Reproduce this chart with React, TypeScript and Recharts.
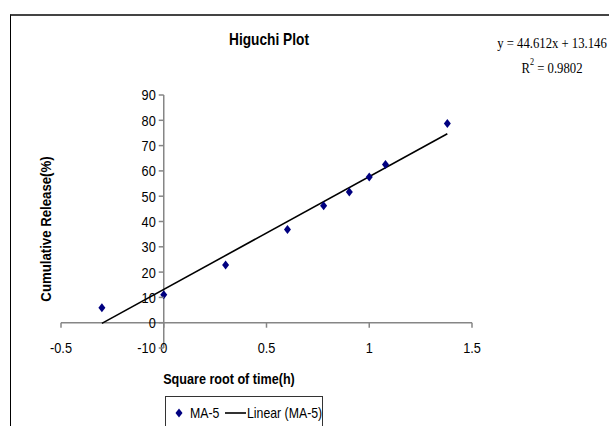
import React from 'react';
import { ScatterChart, Scatter, XAxis, YAxis, ReferenceLine } from 'recharts';

// log time vs cumulative release
const timeX = [-0.301, 0, 0.301, 0.602, 0.778, 0.903, 1.0, 1.079, 1.38];
const releaseY = [5.9, 11, 22.8, 36.8, 46.2, 51.7, 57.6, 62.5, 78.7];

// trendline ends (y = 44.612x + 13.146)
const trendX = [-0.301, 1.38];
const trendY = [-0.28, 74.71];

const xTicks = [-0.5, 0, 0.5, 1, 1.5];
const yTicks = [-10, 0, 10, 20, 30, 40, 50, 60, 70, 80, 90];

const W = 609;
const H = 426;
const PLOT = { top: 95, right: 137, bottom: 78, left: 61 };
const AXIS_H = 30;
const AXIS_W = 30;
const X_DOMAIN: [number, number] = [-0.5, 1.5];
const Y_DOMAIN: [number, number] = [-10, 90];

const plotW = W - PLOT.left - PLOT.right;
const plotH = H - PLOT.top - PLOT.bottom;
// pixel position where the other axis crosses (value 0)
const zeroX = PLOT.left + ((0 - X_DOMAIN[0]) / (X_DOMAIN[1] - X_DOMAIN[0])) * plotW;
const zeroY = PLOT.top + ((Y_DOMAIN[1] - 0) / (Y_DOMAIN[1] - Y_DOMAIN[0])) * plotH;

const sans = '"Liberation Sans", Arial, sans-serif';
const serif = '"Liberation Serif", "Times New Roman", serif';
const axisGray = '#868686';

const points = timeX.map((x, i) => ({ x, y: releaseY[i] }));
const trend = trendX.map((x, i) => ({ x, y: trendY[i] }));

const XTick = (props: any) => {
  const { x, payload } = props;
  return (
    <g>
      <line x1={x} x2={x} y1={zeroY} y2={zeroY + 5} stroke={axisGray} strokeWidth={1.5} />
      <text x={x} y={PLOT.top + plotH + 5.5} textAnchor="middle" fontSize={15} fontFamily={sans} fill="#000"
        transform={`translate(${x},0) scale(0.85,1) translate(${-x},0)`}>
        {payload.value}
      </text>
    </g>
  );
};

const YTick = (props: any) => {
  const { y, payload } = props;
  const tx = zeroX - 8;
  return (
    <g>
      <line x1={zeroX - 5} x2={zeroX} y1={y} y2={y} stroke={axisGray} strokeWidth={1.5} />
      <text x={tx} y={y + 5.5} textAnchor="end" fontSize={15} fontFamily={sans} fill="#000"
        transform={`translate(${tx},0) scale(0.85,1) translate(${-tx},0)`}>
        {payload.value}
      </text>
    </g>
  );
};

const Diamond = (props: any) => {
  const { cx, cy } = props;
  if (cx == null || cy == null) return <g />;
  return <path d={`M${cx},${cy - 4.5} L${cx + 3.5},${cy} L${cx},${cy + 4.5} L${cx - 3.5},${cy} Z`} fill="#000080" />;
};

const legendText: React.CSSProperties = {
  position: 'absolute',
  top: 7,
  fontFamily: sans,
  fontSize: 15,
  lineHeight: '18px',
  whiteSpace: 'nowrap',
  transform: 'scaleX(0.82)',
  transformOrigin: 'left center',
};

export default function App() {
  return (
    <div style={{ position: 'absolute', left: 0, top: 0, width: W, height: H, overflow: 'hidden', background: '#fff' }}>
      <ScatterChart
        width={W}
        height={H}
        margin={{ top: PLOT.top, right: PLOT.right, bottom: PLOT.bottom - AXIS_H, left: PLOT.left - AXIS_W }}
      >
        <XAxis
          type="number"
          dataKey="x"
          domain={X_DOMAIN}
          ticks={xTicks}
          interval={0}
          height={AXIS_H}
          axisLine={false}
          tickLine={false}
          tick={<XTick />}
          allowDataOverflow
        />
        <YAxis
          type="number"
          dataKey="y"
          domain={Y_DOMAIN}
          ticks={yTicks}
          interval={0}
          width={AXIS_W}
          axisLine={false}
          tickLine={false}
          tick={<YTick />}
          allowDataOverflow
        />
        <ReferenceLine y={0} stroke={axisGray} strokeWidth={1.5} />
        <ReferenceLine x={0} stroke={axisGray} strokeWidth={1.5} />
        <Scatter
          data={trend}
          line={{ stroke: '#000', strokeWidth: 1.6 }}
          shape={() => <g />}
          isAnimationActive={false}
        />
        <Scatter data={points} shape={<Diamond />} isAnimationActive={false} />
      </ScatterChart>

      {/* chart area frame, only top and left edges are visible */}
      <div
        style={{
          position: 'absolute',
          left: 10,
          top: 14,
          width: 700,
          height: 500,
          borderTop: '2px solid #444',
          borderLeft: '1.5px solid #000',
          pointerEvents: 'none',
        }}
      />

      <div style={{ position: 'absolute', left: 189, top: 30, width: 160, textAlign: 'center', fontFamily: sans, fontWeight: 'bold', fontSize: 16.5, transform: 'scaleX(0.83)' }}>
        Higuchi Plot
      </div>

      <div style={{ position: 'absolute', left: 482, top: 30, width: 140, textAlign: 'center', fontFamily: serif, fontSize: 15.5, lineHeight: '25px', transform: 'scaleX(0.82)', whiteSpace: 'nowrap' }}>
        <div>y = 44.612x + 13.146</div>
        <div>
          R<sup style={{ fontSize: 10, verticalAlign: 'top', lineHeight: '14px' }}>2</sup> = 0.9802
        </div>
      </div>

      <div
        style={{
          position: 'absolute',
          left: 45,
          top: 229,
          transform: 'translate(-50%, -50%) rotate(-90deg) scaleX(0.88)',
          whiteSpace: 'nowrap',
          fontFamily: sans,
          fontWeight: 'bold',
          fontSize: 15,
        }}
      >
        Cumulative Release(%)
      </div>

      <div style={{ position: 'absolute', left: 139, top: 370, width: 180, textAlign: 'center', fontFamily: sans, fontWeight: 'bold', fontSize: 15, transform: 'scaleX(0.84)' }}>
        Square root of time(h)
      </div>

      <div
        style={{
          position: 'absolute',
          left: 165,
          top: 396,
          width: 156,
          height: 40,
          border: '1px solid #333',
        }}
      >
        <svg width={10} height={12} style={{ position: 'absolute', left: 8, top: 10 }}>
          <path d="M5,1.5 L8.5,6 L5,10.5 L1.5,6 Z" fill="#000080" />
        </svg>
        <span style={{ ...legendText, left: 24 }}>MA-5</span>
        <svg width={21} height={4} style={{ position: 'absolute', left: 59, top: 14 }}>
          <line x1={0} x2={21} y1={2} y2={2} stroke="#000" strokeWidth={1.6} />
        </svg>
        <span style={{ ...legendText, left: 81 }}>Linear (MA-5)</span>
      </div>
    </div>
  );
}
